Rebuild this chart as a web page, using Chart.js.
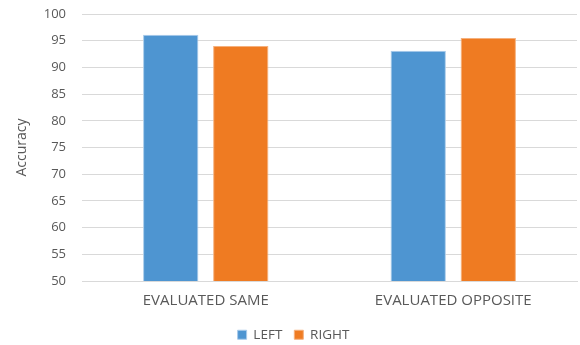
<!DOCTYPE html>
<html>
<head>
<meta charset="utf-8">
<script src="https://cdn.jsdelivr.net/npm/chart.js@4"></script>
<style>
  html, body { margin: 0; padding: 0; background: #fff; }
  #wrap { width: 580px; height: 345px; }
</style>
</head>
<body>
<div id="wrap"><canvas id="accuracy-chart"></canvas></div>
<script>
const categories = ["EVALUATED SAME", "EVALUATED OPPOSITE"];
const leftValues = [96.1, 93.1];
const rightValues = [94.0, 95.5];
const seriesNames = ["LEFT", "RIGHT"];

const textColor = "#595959";
const gridColor = "#d9d9d9";

Chart.defaults.font.family = "'Open Sans', 'Liberation Sans', sans-serif";
Chart.defaults.color = textColor;

const ctx = document.getElementById("accuracy-chart").getContext("2d");
new Chart(ctx, {
    type: "bar",
    data: {
        labels: categories,
        datasets: [
            {
                label: seriesNames[0],
                data: leftValues,
                backgroundColor: "#4e95d1",
                borderColor: "#a9cbea",
                borderWidth: 1,
                barPercentage: 0.79,
                categoryPercentage: 0.566
            },
            {
                label: seriesNames[1],
                data: rightValues,
                backgroundColor: "#ef7b22",
                borderColor: "#f5b07c",
                borderWidth: 1,
                barPercentage: 0.79,
                categoryPercentage: 0.566
            }
        ]
    },
    options: {
        responsive: true,
        maintainAspectRatio: false,
        animation: false,
        layout: { padding: { top: 14, right: 3, left: 10, bottom: -6.5 } },
        scales: {
            x: {
                grid: { display: false, drawTicks: false },
                border: { color: gridColor },
                ticks: { font: { size: 15 }, padding: 11 },
                afterFit: (scale) => {
                    scale.paddingLeft = 0;
                    scale.paddingRight = 0;
                    scale.height = 35;
                }
            },
            y: {
                min: 50,
                max: 100,
                ticks: { stepSize: 5, font: { size: 13 }, padding: 16 },
                grid: { color: gridColor, drawTicks: false },
                border: { display: false },
                title: { display: true, text: "Accuracy", font: { size: 14 }, padding: { top: 4, bottom: 9 } },
                afterFit: (scale) => {
                    // tick padding would otherwise be added above/below the axis too
                    scale.width = 72;
                    scale.paddingTop = 0;
                    scale.paddingBottom = 0;
                }
            }
        },
        plugins: {
            legend: {
                position: "bottom",
                labels: { boxWidth: 9, boxHeight: 9, font: { size: 13.5 }, padding: 12 }
            },
            tooltip: { enabled: false }
        }
    }
});
</script>
</body>
</html>
